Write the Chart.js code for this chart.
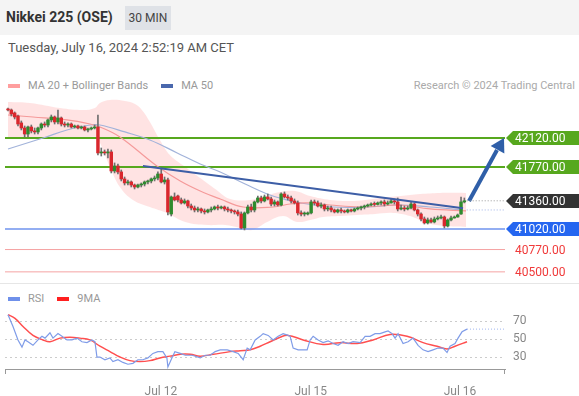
<!DOCTYPE html>
<html>
<head>
<meta charset="utf-8">
<script src="https://cdn.jsdelivr.net/npm/chart.js@4.4.1/dist/chart.umd.min.js"></script>
<style>
body{margin:0;width:579px;height:396px;overflow:hidden;background:#fff;font-family:Roboto,"Liberation Sans",sans-serif;position:relative}
#top{position:absolute;left:0;top:0;width:579px;height:35px;background:#f4f4f4}
#title{position:absolute;left:6px;top:9px;font-size:14px;font-weight:bold;color:#333}
#badge{position:absolute;left:125px;top:6px;width:46px;height:24px;line-height:24px;text-align:center;background:#dfe2e7;color:#444;font-size:12px}
#date{position:absolute;left:8px;top:40px;font-size:13px;color:#555}
#credit{position:absolute;right:4px;top:79px;font-size:11px;color:#aaa}
.leg{position:absolute;left:8px;font-size:11px;color:#999;display:flex;align-items:center;white-space:nowrap}
.sw{display:inline-block;width:12px;height:4px;margin-right:8px}
.gap{display:inline-block;width:13px}
#sep{position:absolute;left:0;top:283px;width:579px;height:1px;background:#e6e6e6}
canvas{position:absolute;left:0}
</style>
</head>
<body>
<div id="top"></div>
<div id="title">Nikkei 225 (OSE)</div>
<div id="badge">30 MIN</div>
<div id="date">Tuesday, July 16, 2024 2:52:19 AM CET</div>
<div class="leg" style="top:79px"><span class="sw" style="background:#ff9e9e"></span>MA 20 + Bollinger Bands<span class="gap"></span><span class="sw" style="background:#4a68ad"></span>MA 50</div>
<div id="credit">Research © 2024 Trading Central</div>
<canvas id="main" width="579" height="190" style="top:95px"></canvas>
<div id="sep"></div>
<div class="leg" style="top:292px"><span class="sw" style="background:#6f90ea"></span>RSI<span class="gap"></span><span class="sw" style="background:#ff2020"></span>9MA</div>
<canvas id="rsi" width="579" height="111" style="top:285px"></canvas>
<script>
// Nikkei 225 (OSE), 30 min candles, Jul 11 - Jul 16 2024

const opens = [
  42471, 42459, 42423, 42386, 42302, 42241, 42168, 42253, 42205, 42193,
  42241, 42289, 42277, 42338, 42374, 42314, 42362, 42289, 42277, 42289,
  42253, 42265, 42241, 42253, 42217, 42229, 42241, 42253, 41939, 41951,
  41939, 41951, 41721, 41781, 41709, 41624, 41576, 41588, 41551, 41527,
  41551, 41563, 41588, 41600, 41624, 41636, 41684, 41588, 41612, 41200,
  41406, 41418, 41370, 41334, 41358, 41297, 41273, 41249, 41261, 41237,
  41225, 41249, 41261, 41285, 41273, 41285, 41261, 41249, 41237, 41225,
  41200, 41031, 41213, 41285, 41249, 41346, 41394, 41358, 41406, 41382,
  41321, 41346, 41309, 41442, 41406, 41394, 41358, 41334, 41213, 41200,
  41200, 41213, 41346, 41334, 41297, 41309, 41261, 41273, 41249, 41225,
  41249, 41237, 41225, 41249, 41237, 41261, 41273, 41285, 41297, 41309,
  41321, 41316, 41334, 41346, 41321, 41334, 41358, 41346, 41261, 41273,
  41261, 41273, 41321, 41249, 41200, 41140, 41092, 41128, 41104, 41140,
  41152, 41164, 41055, 41128, 41152, 41164, 41200, 41346
];
const highs = [
  42483, 42471, 42435, 42398, 42326, 42265, 42265, 42277, 42241, 42253,
  42302, 42314, 42350, 42398, 42386, 42459, 42374, 42314, 42302, 42302,
  42277, 42277, 42265, 42265, 42241, 42253, 42277, 42398, 41999, 41975,
  41987, 41975, 41818, 41805, 41733, 41648, 41612, 41600, 41563, 41563,
  41576, 41600, 41612, 41636, 41660, 41709, 41745, 41648, 41636, 41418,
  41455, 41430, 41394, 41382, 41370, 41321, 41297, 41285, 41273, 41261,
  41261, 41285, 41297, 41309, 41297, 41297, 41285, 41261, 41249, 41249,
  41225, 41225, 41309, 41321, 41358, 41418, 41418, 41430, 41442, 41406,
  41370, 41358, 41455, 41467, 41430, 41418, 41382, 41358, 41237, 41225,
  41225, 41370, 41370, 41358, 41334, 41321, 41297, 41297, 41261, 41261,
  41273, 41249, 41261, 41261, 41273, 41285, 41297, 41309, 41321, 41334,
  41346, 41346, 41358, 41370, 41358, 41382, 41382, 41394, 41309, 41297,
  41297, 41346, 41334, 41261, 41213, 41164, 41152, 41152, 41164, 41176,
  41188, 41176, 41140, 41176, 41176, 41200, 41406, 41394
];
const lows = [
  42447, 42386, 42350, 42265, 42217, 42132, 42132, 42181, 42168, 42168,
  42217, 42253, 42253, 42314, 42289, 42289, 42265, 42253, 42253, 42241,
  42241, 42229, 42229, 42205, 42193, 42217, 42229, 41914, 41902, 41914,
  41878, 41697, 41697, 41684, 41600, 41551, 41551, 41527, 41503, 41515,
  41527, 41539, 41563, 41576, 41600, 41612, 41576, 41563, 41188, 41176,
  41358, 41346, 41321, 41321, 41273, 41249, 41225, 41225, 41213, 41200,
  41213, 41225, 41249, 41249, 41261, 41237, 41225, 41213, 41200, 41176,
  41019, 41007, 41200, 41225, 41225, 41334, 41334, 41346, 41370, 41297,
  41297, 41297, 41297, 41394, 41370, 41334, 41321, 41188, 41176, 41176,
  41188, 41200, 41309, 41285, 41273, 41237, 41237, 41225, 41213, 41213,
  41213, 41213, 41213, 41225, 41225, 41249, 41249, 41261, 41285, 41297,
  41297, 41309, 41309, 41297, 41309, 41330, 41321, 41237, 41249, 41237,
  41249, 41261, 41237, 41176, 41116, 41079, 41079, 41092, 41092, 41128,
  41140, 41031, 41043, 41116, 41150, 41160, 41195, 41334
];
const closes = [
  42459, 42410, 42374, 42289, 42241, 42168, 42253, 42205, 42193, 42241,
  42289, 42277, 42338, 42374, 42314, 42362, 42289, 42277, 42289, 42253,
  42265, 42241, 42253, 42217, 42229, 42241, 42253, 41939, 41951, 41939,
  41951, 41721, 41781, 41709, 41624, 41576, 41588, 41551, 41527, 41551,
  41563, 41588, 41600, 41624, 41636, 41684, 41588, 41612, 41225, 41406,
  41370, 41370, 41334, 41358, 41297, 41273, 41249, 41261, 41237, 41225,
  41249, 41261, 41285, 41273, 41285, 41261, 41249, 41237, 41225, 41200,
  41031, 41213, 41285, 41249, 41346, 41394, 41358, 41406, 41382, 41321,
  41346, 41309, 41442, 41406, 41394, 41358, 41334, 41213, 41200, 41205,
  41213, 41346, 41334, 41297, 41309, 41261, 41273, 41249, 41225, 41249,
  41237, 41225, 41249, 41237, 41261, 41273, 41285, 41297, 41309, 41321,
  41316, 41334, 41346, 41321, 41334, 41358, 41346, 41261, 41273, 41261,
  41273, 41321, 41249, 41200, 41140, 41092, 41128, 41104, 41140, 41152,
  41164, 41055, 41128, 41152, 41164, 41188, 41346, 41360
];

// indicator readings: [candle index, value]
const bandUpper = [
  [0, 42556], [6.6, 42544], [15.6, 42483], [22.5, 42459], [26.1, 42483], [27.6, 42544],
  [30.6, 42580], [35.1, 42568], [38.1, 42531], [40.2, 42459], [42.6, 42314], [45.6, 42096],
  [48.6, 41914], [53.2, 41769], [57.7, 41636], [62.2, 41503], [66.7, 41382], [72.7, 41370],
  [77.2, 41418], [81.7, 41467], [86.2, 41479], [90.7, 41418], [96.7, 41370], [102.7, 41358],
  [107.2, 41370], [111.7, 41394], [117.7, 41418], [123.7, 41442], [129.7, 41455], [137.5, 41455]
];
const bandLower = [
  [0, 42132], [9.6, 42108], [18.6, 42120], [24.6, 42132], [26.7, 42120], [29.1, 41914],
  [30.6, 41769], [33.6, 41527], [37.5, 41370], [42.6, 41285], [47.7, 41213], [53.2, 41104],
  [59.8, 41067], [65.2, 41067], [69.7, 41031], [73.3, 41007], [77.8, 41104], [82.6, 41176],
  [86.8, 41104], [90.7, 41128], [94.6, 41164], [99.7, 41176], [104.8, 41188], [110.2, 41200],
  [115.6, 41213], [120.7, 41176], [125.8, 41092], [131.2, 41055], [137.5, 41043]
];
const ma20 = [
  [0, 42398], [7.5, 42374], [17.7, 42338], [24.6, 42289], [27.6, 42253], [33.6, 42132],
  [44.7, 41781], [51.7, 41600], [57.7, 41479], [63.7, 41382], [70.6, 41285], [79.6, 41285],
  [84.7, 41321], [89.8, 41334], [96.7, 41309], [105.7, 41285], [111.7, 41297], [117.7, 41309],
  [126.7, 41261], [137.5, 41237]
];
const ma50 = [
  [0, 41987], [10.5, 42120], [17.7, 42217], [24.6, 42277], [27.6, 42277], [35.1, 42193],
  [42.6, 42096], [50.8, 41939], [57.7, 41805], [63.7, 41709], [71.2, 41563], [77.8, 41442],
  [82.6, 41382], [87.7, 41334], [97.6, 41285], [107.8, 41285], [117.7, 41309], [126.7, 41285],
  [136.6, 41249]
];
const trendLine = [[40.5, 41781], [136.6, 41269]];
const arrowPath = [[138.4, 41358], [146.8, 41975]];
const arrowHead = [147.6, 42024];

const resistances = [42120, 41770];
const pivotLevel = 41020;
const supports = [40770, 40500];
const lastPrice = 41360;

const rsi = [
  [0, 77], [1.5, 64], [3, 49], [4.2, 41], [5.1, 49], [6, 47], [7.5, 43], [9, 49], [10.2, 53],
  [11.1, 51], [12.6, 57], [13.5, 51], [15, 56], [16.2, 53], [17.7, 49], [19.2, 49], [20.7, 51],
  [22.2, 47], [23.7, 46], [25.2, 49], [26.1, 47], [26.7, 30], [27.6, 30], [29.1, 27], [30.6, 29],
  [31.5, 25], [33, 27], [34.5, 24], [36, 22], [37.5, 23], [39, 27], [40.5, 27], [42, 29],
  [43.5, 34], [45, 36], [46.5, 36], [47.7, 29], [48, 19], [49.2, 29], [50.1, 36], [51.7, 34],
  [53.2, 32], [55.3, 32], [57.7, 29], [59.2, 32], [60.7, 32], [62.2, 36], [63.7, 38], [65.8, 38],
  [67.6, 36], [69.1, 34], [70.6, 27], [71.8, 40], [72.7, 38], [74.2, 49], [75.7, 53], [76.6, 56],
  [78.1, 54], [79.6, 49], [81.1, 53], [82.6, 56], [84.1, 54], [84.7, 53], [85.6, 40], [87.1, 38],
  [89.8, 38], [90.7, 49], [91.6, 53], [93.1, 49], [94.6, 46], [96.1, 48], [97.6, 45], [99.1, 43],
  [100.6, 47], [102.1, 45], [103.6, 47], [105.7, 46], [107.2, 53], [108.7, 53], [110.2, 56],
  [111.7, 56], [113.2, 58], [114.1, 59], [115.3, 56], [116.2, 51], [117.1, 56], [118.6, 45],
  [120.1, 47], [121.6, 51], [123.1, 43], [124.6, 38], [126.1, 36], [127.6, 38], [129.1, 40],
  [130.6, 40], [131.8, 35], [132.7, 42], [134.2, 45], [135.1, 51], [136.3, 58], [137.8, 61]
];
const rsiMa9 = [
  [0, 77], [2.1, 73], [4.5, 64], [7.5, 54], [10.5, 49], [12.6, 47], [15.6, 51], [18.6, 52],
  [21.6, 51], [24.6, 49], [27.6, 42], [30.6, 36], [33.6, 30], [36.6, 26], [39.6, 25], [42.6, 26],
  [45.6, 29], [48.6, 31], [51.7, 33], [54.7, 33], [57.7, 31], [61.6, 33], [66.7, 36], [69.7, 37],
  [72.7, 38], [75.7, 42], [78.7, 47], [81.7, 52], [84.1, 54], [88.6, 49], [94.6, 44], [99.7, 46],
  [104.8, 45], [109.6, 49], [114.7, 55], [119.8, 53], [124.6, 46], [128.8, 42], [131.8, 39],
  [134.2, 42], [137.8, 47]
];
const rsiTicks = [30, 50, 70];
const dayTicks = [45.9, 90.9, 135.7];
const dayLabels = ['Jul 12', 'Jul 15', 'Jul 16'];

const X_MIN = -0.9, X_MAX = 149.2;
const GREEN = '#2e8b2e', RED = '#d9272d';
const pts = arr => arr.map(p => ({x: p[0], y: p[1]}));
const flat = (v, a, b) => [{x: a, y: v}, {x: b, y: v}];
const lastIdx = closes.length - 1;

const bodies = closes.map((c, i) => ({x: i, y: [opens[i], c]}));
const wicks = closes.map((c, i) => ({x: i, y: [lows[i], highs[i]]}));
const bodyColors = closes.map((c, i) => (c >= opens[i] ? GREEN : RED));

const lineBase = {type: 'line', pointRadius: 0, borderWidth: 1.2, fill: false};
const levelLine = (v, color, w) => Object.assign({}, lineBase, {
  data: flat(v, X_MIN, X_MAX), borderColor: color, borderWidth: w, order: 8
});

const tags = {
  id: 'tags',
  afterDraw(chart) {
    const ctx = chart.ctx, y = chart.scales.y;
    const tag = (v, bg, fg) => {
      const py = Math.round(y.getPixelForValue(v));
      if (bg) {
        ctx.fillStyle = bg;
        ctx.beginPath();
        ctx.moveTo(506, py);
        ctx.lineTo(513, py - 7);
        ctx.lineTo(579, py - 7);
        ctx.lineTo(579, py + 7);
        ctx.lineTo(513, py + 7);
        ctx.closePath();
        ctx.fill();
      }
      ctx.fillStyle = fg;
      ctx.font = '12px Roboto, "Liberation Sans", sans-serif';
      ctx.textBaseline = 'middle';
      ctx.fillText(v.toFixed(2), 515, py + 0.5);
    };
    resistances.forEach(v => tag(v, '#57a81e', '#fff'));
    tag(lastPrice, '#333333', '#fff');
    tag(pivotLevel, '#2566f0', '#fff');
    supports.forEach(v => tag(v, null, '#f03a3a'));
  }
};

new Chart(document.getElementById('main'), {
  type: 'bar',
  data: {
    datasets: [
      Object.assign({}, lineBase, {data: pts(bandUpper), borderWidth: 0, tension: 0.4,
        fill: '+1', backgroundColor: 'rgba(255,90,90,0.17)', order: 10}),
      Object.assign({}, lineBase, {data: pts(bandLower), borderWidth: 0, tension: 0.4, order: 11}),
      Object.assign({}, lineBase, {data: pts(ma20), borderColor: '#f59a9a', tension: 0.4, order: 4}),
      Object.assign({}, lineBase, {data: pts(ma50), borderColor: '#a2b3da', tension: 0.4, order: 4}),
      levelLine(resistances[0], '#57a81e', 2),
      levelLine(resistances[1], '#57a81e', 2),
      levelLine(pivotLevel, '#6f93ee', 1.5),
      levelLine(supports[0], '#f5a3a3', 1),
      levelLine(supports[1], '#f5a3a3', 1),
      {type: 'bar', data: wicks, backgroundColor: '#6f6f6f', barThickness: 1, grouped: false, order: 2},
      {type: 'bar', data: bodies, backgroundColor: bodyColors, barThickness: 2.8, minBarLength: 1,
        grouped: false, order: 1},
      Object.assign({}, lineBase, {data: pts(trendLine), borderColor: '#3d5ea6', borderWidth: 2, order: 0}),
      Object.assign({}, lineBase, {data: flat(lastPrice, lastIdx + 0.7, X_MAX), borderColor: '#999',
        borderWidth: 1, borderDash: [1, 2], order: 0}),
      Object.assign({}, lineBase, {data: flat(ma50[ma50.length - 1][1], lastIdx + 0.7, X_MAX),
        borderColor: '#9fb2e6', borderWidth: 1, borderDash: [1, 2], order: 0}),
      Object.assign({}, lineBase, {data: pts(arrowPath), borderColor: '#2f5fa8', borderWidth: 4, order: 0}),
      {type: 'line', data: [{x: arrowHead[0], y: arrowHead[1]}], showLine: false, pointStyle: 'triangle',
        pointRadius: 9, pointRotation: 28.8, pointBackgroundColor: '#2f5fa8', pointBorderWidth: 0, order: 0}
    ]
  },
  options: {
    responsive: false,
    animation: false,
    events: [],
    layout: {autoPadding: false, padding: {left: 5, right: 74, top: 0, bottom: 0}},
    plugins: {legend: {display: false}, tooltip: {enabled: false}},
    scales: {
      x: {type: 'linear', min: X_MIN, max: X_MAX, offset: false, display: false},
      y: {min: 40341, max: 42640, display: false}
    }
  },
  plugins: [tags]
});

const axisEnds = {
  id: 'axisEnds',
  afterDraw(chart) {
    const ctx = chart.ctx, a = chart.chartArea;
    ctx.strokeStyle = '#999';
    ctx.lineWidth = 1;
    ctx.beginPath();
    ctx.moveTo(a.left + 0.5, a.bottom);
    ctx.lineTo(a.left + 0.5, a.bottom + 5);
    ctx.moveTo(a.right - 0.5, a.bottom);
    ctx.lineTo(a.right - 0.5, a.bottom + 5);
    ctx.stroke();
  }
};

new Chart(document.getElementById('rsi'), {
  type: 'line',
  data: {
    datasets: [
      Object.assign({}, lineBase, {data: pts(rsi), borderColor: '#7f9ce8', borderWidth: 1.2}),
      Object.assign({}, lineBase, {data: pts(rsiMa9), borderColor: '#ff4f4f', borderWidth: 1.5, tension: 0.4}),
      Object.assign({}, lineBase, {data: flat(rsi[rsi.length - 1][1], rsi[rsi.length - 1][0], X_MAX),
        borderColor: '#9fb4ee', borderWidth: 1, borderDash: [1, 2]})
    ]
  },
  options: {
    responsive: false,
    animation: false,
    events: [],
    layout: {autoPadding: false, padding: {left: 5, right: 0, top: 20, bottom: 0}},
    plugins: {legend: {display: false}, tooltip: {enabled: false}},
    scales: {
      x: {
        type: 'linear', min: X_MIN, max: X_MAX,
        afterBuildTicks: s => { s.ticks = dayTicks.map(v => ({value: v})); },
        afterFit: s => { s.height = 27; },
        ticks: {callback: (v, i) => dayLabels[i], color: '#888', font: {size: 12, family: 'Roboto'},
          padding: 8, autoSkip: false, maxRotation: 0},
        grid: {display: false},
        border: {display: true, color: '#999'}
      },
      y: {
        position: 'right', min: 16.7, max: 87.8,
        afterBuildTicks: s => { s.ticks = rsiTicks.map(v => ({value: v})); },
        afterFit: s => { s.width = 74; },
        ticks: {color: '#888', font: {size: 12, family: 'Roboto'}, padding: 8},
        grid: {color: '#cccccc', drawTicks: false},
        border: {display: false, dash: [2, 3]}
      }
    }
  },
  plugins: [axisEnds]
});
</script>
</body>
</html>
